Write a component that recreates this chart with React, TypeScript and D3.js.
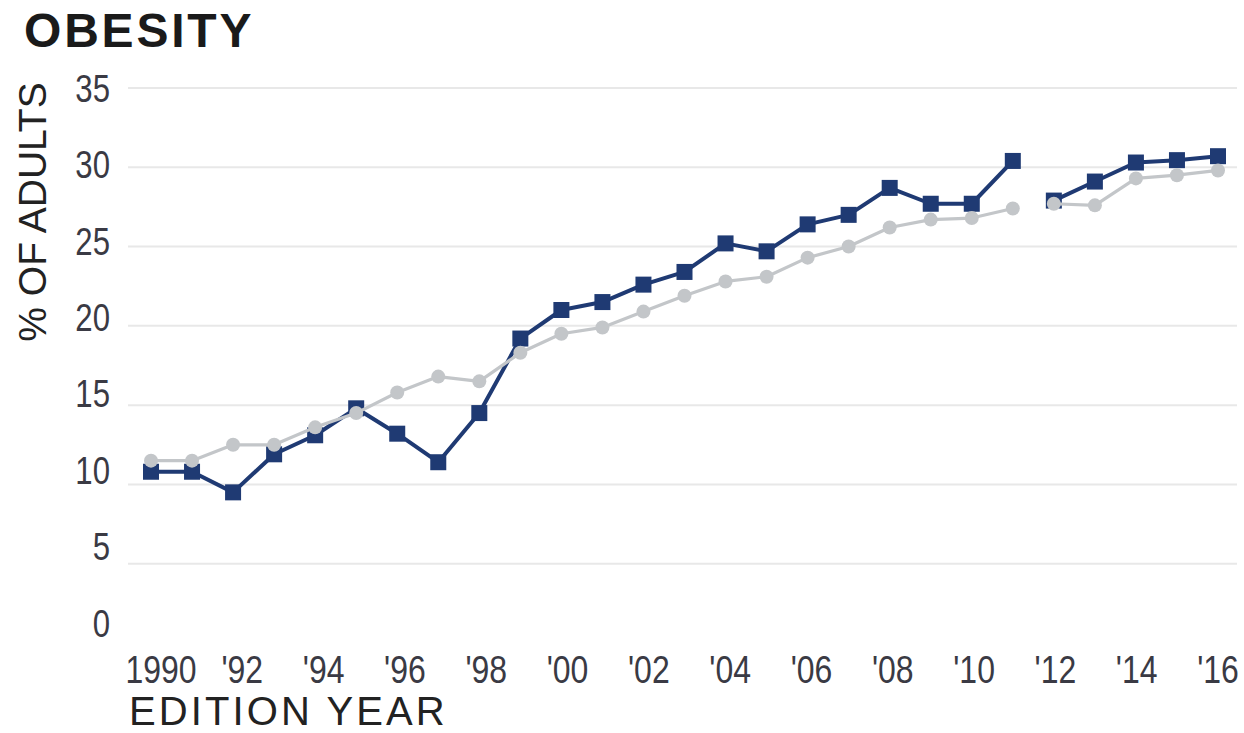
import React from "react";
import * as d3 from "d3";

const years = [1990, 1991, 1992, 1993, 1994, 1995, 1996, 1997, 1998, 1999, 2000, 2001, 2002, 2003, 2004, 2005, 2006, 2007, 2008, 2009, 2010, 2011, 2012, 2013, 2014, 2015, 2016];
const darkValues = [10.8, 10.8, 9.5, 11.9, 13.1, 14.8, 13.2, 11.4, 14.5, 19.2, 21.0, 21.5, 22.6, 23.4, 25.2, 24.7, 26.4, 27.0, 28.7, 27.7, 27.7, 30.4, 27.9, 29.1, 30.3, 30.45, 30.7];
const grayValues = [11.5, 11.5, 12.5, 12.5, 13.6, 14.5, 15.8, 16.8, 16.5, 18.3, 19.5, 19.9, 20.9, 21.9, 22.8, 23.1, 24.3, 25.0, 26.2, 26.7, 26.8, 27.4, 27.7, 27.6, 29.3, 29.5, 29.8];
const breakAfterYear = 2011;
const xTickLabels = ["1990", "'92", "'94", "'96", "'98", "'00", "'02", "'04", "'06", "'08", "'10", "'12", "'14", "'16"];
const yTicks = [0, 5, 10, 15, 20, 25, 30, 35];
const gridTicks = [5, 10, 15, 20, 25, 30, 35];

const W = 1244;
const H = 733;
const narrow = 0.82;
const tickFont = "Liberation Sans, Arial, sans-serif";

export default function App() {
  const x = d3.scaleLinear().domain([1990, 2016]).range([151, 1218]);
  const y = d3.scaleLinear().domain([0, 35]).range([643, 88]);
  const xLab = d3.scalePoint<string>().domain(xTickLabels).range([161, 1218]);
  const yLab = d3.scaleLinear().domain([0, 35]).range([623, 88]);

  const makeSegments = (vals: number[]) => {
    const pts = years.map((yr, i) => ({ yr, v: vals[i] }));
    return [pts.filter((p) => p.yr <= breakAfterYear), pts.filter((p) => p.yr > breakAfterYear)];
  };
  const line = d3
    .line<{ yr: number; v: number }>()
    .x((d) => x(d.yr))
    .y((d) => y(d.v));

  const darkColor = "#1f3a73";
  const grayColor = "#c3c6c9";
  const sq = 16;

  return (
    <svg
      width={W}
      height={H}
      style={{ position: "absolute", left: 0, top: 0, background: "#fff" }}
    >
      <rect x={0} y={0} width={W} height={H} fill="#fff" />
      <text
        x={24}
        y={47}
        fontFamily="Liberation Sans, Arial, sans-serif"
        fontWeight="bold"
        fontSize={48}
        letterSpacing={2.8}
        fill="#1a1a1a"
      >
        OBESITY
      </text>
      {gridTicks.map((t) => (
        <line key={t} x1={128} x2={1237} y1={y(t)} y2={y(t)} stroke="#e8e8e8" strokeWidth={2} />
      ))}
      {yTicks.map((t) => (
        <g key={t} transform={`translate(110,${yLab(t)}) scale(${narrow},1)`}>
          <text
            x={0}
            y={0}
            dy="0.36em"
            textAnchor="end"
            fontFamily={tickFont}
            fontSize={38}
            fill="#3a3a44"
          >
            {t}
          </text>
        </g>
      ))}
      {xTickLabels.map((l) => (
        <g key={l} transform={`translate(${xLab(l)},683) scale(${narrow},1)`}>
          <text
            x={0}
            y={0}
            textAnchor="middle"
            fontFamily={tickFont}
            fontSize={39}
            fill="#3a3a44"
          >
            {l}
          </text>
        </g>
      ))}
      <text
        transform={`translate(46,212) rotate(-90)`}
        textAnchor="middle"
        fontFamily="Liberation Sans, Arial, sans-serif"
        fontSize={39}
        fill="#222"
      >
        % OF ADULTS
      </text>
      <text
        x={129}
        y={725}
        fontFamily="Liberation Sans, Arial, sans-serif"
        fontSize={40}
        letterSpacing={3.1}
        fill="#222"
      >
        EDITION YEAR
      </text>

      {makeSegments(darkValues).map((seg, i) => (
        <path key={"d" + i} d={line(seg) || ""} fill="none" stroke={darkColor} strokeWidth={4} strokeLinejoin="round" />
      ))}
      {years.map((yr, i) => (
        <rect
          key={"ds" + yr}
          x={x(yr) - sq / 2}
          y={y(darkValues[i]) - sq / 2}
          width={sq}
          height={sq}
          fill={darkColor}
        />
      ))}
      {makeSegments(grayValues).map((seg, i) => (
        <path key={"g" + i} d={line(seg) || ""} fill="none" stroke={grayColor} strokeWidth={3.2} strokeLinejoin="round" />
      ))}
      {years.map((yr, i) => (
        <circle key={"gc" + yr} cx={x(yr)} cy={y(grayValues[i])} r={7} fill={grayColor} />
      ))}
    </svg>
  );
}
